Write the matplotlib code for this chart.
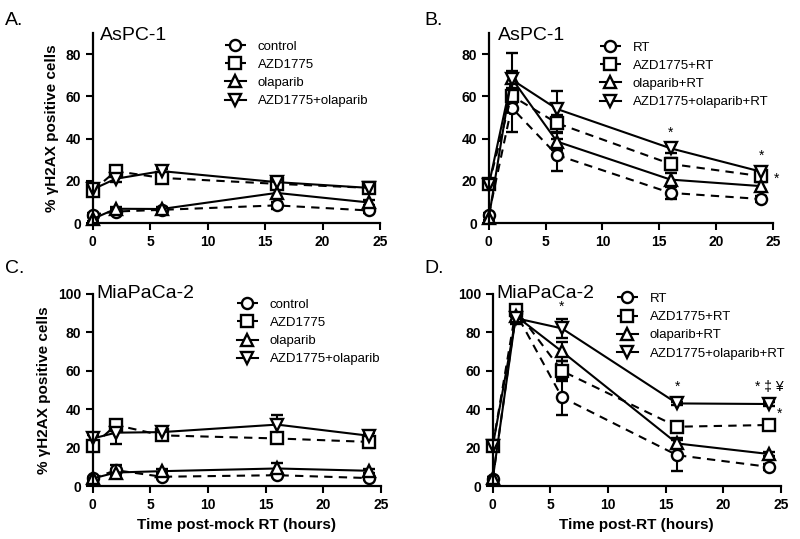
import matplotlib
matplotlib.use("Agg")
from matplotlib import pyplot as plt
from matplotlib.lines import Line2D

plt.rcParams['font.family'] = ['Liberation Sans', 'DejaVu Sans']

# - Data

hours = [0, 2, 6, 16, 24]

# A. AsPC-1, mock RT
a_control = [4.0, 5.5, 6.3, 8.4, 6.0]
a_azd = [15.4, 24.6, 21.4, 18.6, 16.7]
a_olap = [2.0, 6.8, 6.7, 14.3, 9.8]
a_combo = [16.0, 21.0, 24.6, 19.4, 16.7]
a_control_err = [1.0, 1.0, 1.0, 1.5, 1.0]
a_azd_err = [1.5, 1.5, 1.5, 1.5, 1.0]
a_olap_err = [1.0, 1.0, 1.0, 2.0, 1.0]
a_combo_err = [1.5, 1.5, 1.0, 1.5, 1.0]

# B. AsPC-1, RT
b_rt = [4.0, 54.7, 32.2, 14.3, 11.4]
b_azd = [18.3, 60.3, 47.3, 28.0, 22.2]
b_olap = [2.4, 68.6, 38.6, 20.6, 17.5]
b_combo = [18.0, 68.0, 54.0, 35.4, 24.3]
b_rt_err = [1.0, 11.5, 7.5, 3.0, 1.5]
b_azd_err = [2.0, 3.0, 4.0, 3.0, 1.5]
b_olap_err = [1.0, 11.8, 4.0, 3.0, 2.0]
b_combo_err = [2.0, 4.0, 8.5, 2.0, 1.0]

# C. MiaPaCa-2, mock RT
c_control = [4.0, 8.3, 4.9, 5.7, 4.2]
c_azd = [21.0, 31.8, 26.4, 24.8, 23.0]
c_olap = [4.0, 7.1, 7.8, 9.2, 8.0]
c_combo = [24.8, 27.8, 28.1, 32.0, 26.2]
c_control_err = [1.0, 2.5, 1.0, 1.0, 1.0]
c_azd_err = [2.0, 1.5, 1.5, 2.0, 1.0]
c_olap_err = [1.0, 2.0, 1.0, 3.0, 1.0]
c_combo_err = [2.0, 5.8, 1.0, 5.0, 1.5]

# D. MiaPaCa-2, RT
d_rt = [3.6, 90.0, 46.2, 16.1, 10.0]
d_azd = [21.0, 91.7, 59.9, 30.9, 31.8]
d_olap = [4.0, 88.5, 70.0, 22.2, 16.7]
d_combo = [21.0, 87.3, 82.0, 43.0, 42.7]
d_rt_err = [1.0, 2.0, 9.3, 8.0, 1.5]
d_azd_err = [2.0, 2.0, 5.0, 2.0, 1.5]
d_olap_err = [1.0, 2.0, 5.0, 3.0, 1.0]
d_combo_err = [1.0, 3.0, 4.8, 1.0, 1.0]

mock_labels = ["control", "AZD1775", "olaparib", "AZD1775+olaparib"]
rt_labels = ["RT", "AZD1775+RT", "olaparib+RT", "AZD1775+olaparib+RT"]

markers = ["o", "s", "^", "v"]
dashed = (0, (4, 3))
styles = [dashed, dashed, "-", "-"]
mk_style = dict(color="black", lw=1.5, markersize=8, markerfacecolor="white",
                markeredgewidth=1.7)

# - Functions

def panel(ax, series, errors, labels, ymax, title, legend_xy, title_xy):
    handles = []
    for vals, errs, lab, mk, ls in zip(series, errors, labels, markers, styles):
        ax.errorbar(hours, vals, yerr=errs, marker=mk, linestyle=ls,
                    ecolor="black", elinewidth=1.5, capsize=4, capthick=1.5,
                    clip_on=False, **mk_style)
        handles.append(Line2D([], [], marker=mk, linestyle=ls, label=lab, **mk_style))
    ax.set_xlim(0, 25)
    ax.set_ylim(0, ymax)
    ax.set_xticks([0, 5, 10, 15, 20, 25])
    ax.set_yticks(range(0, ymax + 1, 20))
    for s in ["top", "right"]:
        ax.spines[s].set_visible(False)
    for s in ["left", "bottom"]:
        ax.spines[s].set_linewidth(1.6)
    ax.tick_params(width=1.5, length=5, labelsize=10)
    for t in ax.get_xticklabels() + ax.get_yticklabels():
        t.set_fontweight("bold")
    ax.text(title_xy[0], title_xy[1], title, transform=ax.transAxes, fontsize=14)
    ax.legend(handles=handles, loc="upper left", bbox_to_anchor=legend_xy,
              frameon=False, numpoints=1, fontsize=9.5, handlelength=1.6,
              handletextpad=0.9, labelspacing=0.45, borderpad=0, borderaxespad=0)

fig = plt.figure(figsize=(8, 5.39), dpi=100)
ax_a = fig.add_axes([0.116, 0.586, 0.359, 0.353])
ax_b = fig.add_axes([0.611, 0.586, 0.355, 0.353])
ax_c = fig.add_axes([0.116, 0.098, 0.360, 0.357])
ax_d = fig.add_axes([0.616, 0.098, 0.360, 0.357])

panel(ax_a, [a_control, a_azd, a_olap, a_combo],
      [a_control_err, a_azd_err, a_olap_err, a_combo_err],
      mock_labels, 90, "AsPC-1", (0.46, 0.96), (0.024, 0.963))
panel(ax_b, [b_rt, b_azd, b_olap, b_combo],
      [b_rt_err, b_azd_err, b_olap_err, b_combo_err],
      rt_labels, 90, "AsPC-1", (0.39, 0.955), (0.032, 0.963))
panel(ax_c, [c_control, c_azd, c_olap, c_combo],
      [c_control_err, c_azd_err, c_olap_err, c_combo_err],
      mock_labels, 100, "MiaPaCa-2", (0.50, 0.975), (0.014, 0.98))
panel(ax_d, [d_rt, d_azd, d_olap, d_combo],
      [d_rt_err, d_azd_err, d_olap_err, d_combo_err],
      rt_labels, 100, "MiaPaCa-2", (0.43, 1.005), (0.014, 0.98))

ax_a.set_ylabel("% \u03b3H2AX positive cells", fontsize=11, fontweight="bold", labelpad=5)
ax_c.set_ylabel("% \u03b3H2AX positive cells", fontsize=11, fontweight="bold", labelpad=5)
ax_c.set_xlabel("Time post-mock RT (hours)", fontsize=11, fontweight="bold")
ax_d.set_xlabel("Time post-RT (hours)", fontsize=11, fontweight="bold")

# significance marks
ax_b.text(16, 41, "*", ha="center", fontsize=10)
ax_b.text(24, 30, "*", ha="center", fontsize=10)
ax_b.text(25.3, 19, "*", ha="center", fontsize=10)
ax_d.text(6, 91, "*", ha="center", fontsize=10)
ax_d.text(16, 49.5, "*", ha="center", fontsize=10)
ax_d.text(24, 49.5, "* \u2021 \u00a5", ha="center", fontsize=10)
ax_d.text(24.9, 35.5, "*", ha="center", fontsize=10)

# panel letters
for x, y, s in [(0.006, 0.978, "A."), (0.531, 0.978, "B."),
                (0.006, 0.518, "C."), (0.531, 0.518, "D.")]:
    fig.text(x, y, s, fontsize=14, va="top")

fig.savefig("out.png", dpi=100)
